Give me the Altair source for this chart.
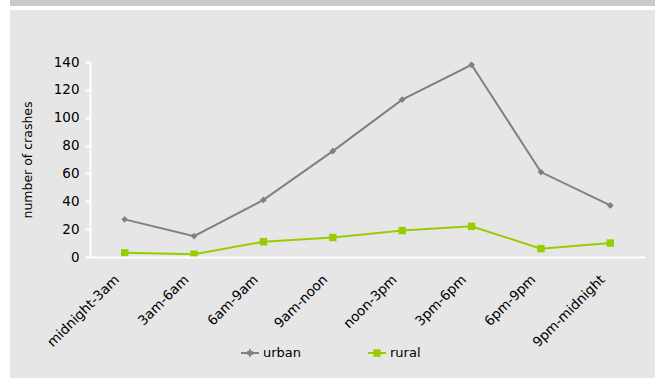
import altair as alt
import pandas as pd

periods = ["midnight-3am", "3am-6am", "6am-9am", "9am-noon", "noon-3pm",
           "3pm-6pm", "6pm-9pm", "9pm-midnight"]
urban = [27, 15, 41, 76, 113, 138, 61, 37]
rural = [3, 2, 11, 14, 19, 22, 6, 10]
series = ["urban", "rural"]
colors = ["#808080", "#99cc00"]
shapes = ["diamond", "square"]
sizes = [45, 55]
y_ticks = [0, 20, 40, 60, 80, 100, 120, 140]

rows = []
for s, vals in zip(series, [urban, rural]):
    for p, v in zip(periods, vals):
        rows.append({"period": p, "series": s, "crashes": v})
df = pd.DataFrame(rows)

FONT = "DejaVu Sans"

# legend glyphs: a horizontal line with a marker drawn from short strokes
LEG_DIAMOND = ("M-1,0H1M-0.12,-0.3H0.12M-0.32,-0.1H0.32M-0.32,0.1H0.32M-0.12,0.3H0.12")
LEG_SQUARE = ("M-1,0H1M-0.4,-0.3H0.4M-0.4,-0.1H0.4M-0.4,0.1H0.4M-0.4,0.3H0.4")

color_scale = alt.Scale(domain=series, range=colors)
x_enc = alt.X("period:N", sort=periods, title=None,
              scale=alt.Scale(paddingInner=0, paddingOuter=0),
              axis=alt.Axis(labelAngle=-45, labelAlign="right", labelBaseline="bottom",
                            ticks=False, labelPadding=25, labelOffset=-3, domainColor="white",
                            domainWidth=2, labelFont=FONT, labelFontSize=13.5,
                            labelColor="#000000", zindex=1))
y_enc = alt.Y("crashes:Q", title="number of crashes",
              scale=alt.Scale(domain=[0, 140], nice=False),
              axis=alt.Axis(values=y_ticks, grid=False, domainColor="white",
                            domainWidth=2, tickColor="white", tickWidth=2, tickSize=5,
                            labelFont=FONT, labelFontSize=13.5, labelColor="#000000",
                            labelPadding=6, titleFont=FONT, titleFontSize=12.5,
                            titleFontWeight="normal", titleColor="#000000",
                            titlePadding=19, zindex=1))

legend = alt.Legend(
    title=None, orient="none", legendX=150, legendY=281, direction="horizontal",
    columns=2, gridAlign="all", columnPadding=62,
    labelFont=FONT, labelFontSize=13, labelColor="#000000",
    symbolSize=324, symbolStrokeWidth=2, symbolOpacity=1, labelOffset=3, zindex=2)

bg_data = alt.Data(values=[{"k": 1}])
bg = alt.Chart(bg_data).mark_rect(color="#e6e6e6").encode(
    x=alt.value(-80), x2=alt.value(565), y=alt.value(-52), y2=alt.value(316))
band = alt.Chart(bg_data).mark_rect(color="#c9c9c9").encode(
    x=alt.value(-80), x2=alt.value(565), y=alt.value(-62), y2=alt.value(-56))

layers = [bg, band]
for s, c in zip(series, colors):
    layers.append(alt.Chart(df).transform_filter(alt.datum.series == s)
                  .mark_line(strokeWidth=2, color=c).encode(x=x_enc, y=y_enc))
for s, c, sh, sz in zip(series, colors, shapes, sizes):
    layers.append(alt.Chart(df).transform_filter(alt.datum.series == s)
                  .mark_point(filled=True, opacity=1, shape=sh, size=sz, color=c)
                  .encode(x=x_enc, y=y_enc))

# legend-only layer (no rows drawn)
leg = alt.Chart(df).transform_filter(alt.datum.crashes < 0).mark_point(
    filled=False, strokeWidth=2).encode(
    x=x_enc, y=y_enc,
    color=alt.Color("series:N", scale=color_scale, legend=legend),
    shape=alt.Shape("series:N", scale=alt.Scale(domain=series, range=[LEG_DIAMOND, LEG_SQUARE]),
                    legend=legend))
layers.append(leg)

chart = alt.layer(*layers).properties(
    width=555, height=195,
    padding={"left": 90, "top": 62, "right": 13, "bottom": 121},
    autosize="none", background="white"
).configure_view(stroke=None)

chart.save("out.html", embed_options={"renderer": "svg", "actions": False})
